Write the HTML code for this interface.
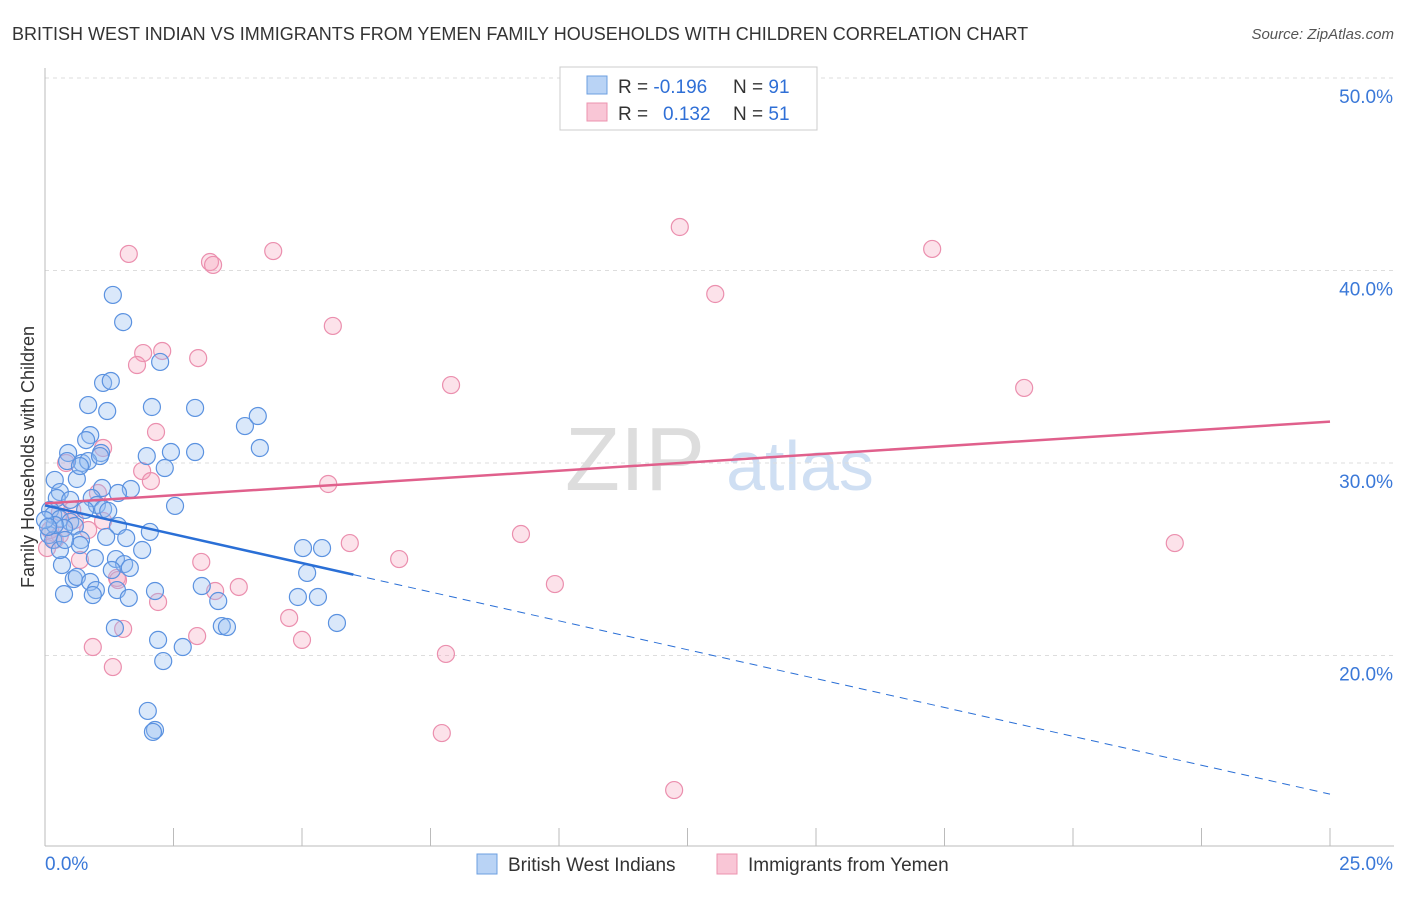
<!DOCTYPE html>
<html><head><meta charset="utf-8"><style>
body{margin:0;background:#fff;font-family:"Liberation Sans",sans-serif;}
svg text{font-family:"Liberation Sans",sans-serif;}
</style></head><body>
<svg id="chart" width="1406" height="892">
<text x="12" y="40" font-size="18" fill="#333">BRITISH WEST INDIAN VS IMMIGRANTS FROM YEMEN FAMILY HOUSEHOLDS WITH CHILDREN CORRELATION CHART</text>
<text x="1394" y="39" font-size="15" fill="#555" text-anchor="end" font-style="italic">Source: ZipAtlas.com</text>
<text x="34" y="457" font-size="18" fill="#333" text-anchor="middle" transform="rotate(-90 34 457)">Family Households with Children</text>
<g><text x="635" y="490" font-size="90" fill="#ddd" text-anchor="middle" font-family="Liberation Serif">ZIP</text><text x="800" y="490" font-size="70" fill="#cfdff3" text-anchor="middle">atlas</text></g>
<g id="grid"></g><g id="marks"></g>
<g>
<rect x="560" y="67" width="257" height="63" fill="#fff" stroke="#ccc"/>
<rect x="587" y="76" width="20" height="18" fill="#b9d3f5" stroke="#6c9fe0"/>
<rect x="587" y="103" width="20" height="18" fill="#f9c6d6" stroke="#ec93af"/>
<text x="618" y="93" font-size="19" fill="#333">R = <tspan fill="#2f6fd6">-0.196</tspan></text>
<text x="733" y="93" font-size="19" fill="#333">N = <tspan fill="#2f6fd6">91</tspan></text>
<text x="618" y="120" font-size="19" fill="#333">R = <tspan fill="#2f6fd6" x="663">0.132</tspan></text>
<text x="733" y="120" font-size="19" fill="#333">N = <tspan fill="#2f6fd6">51</tspan></text>
</g>
<g>
<rect x="477" y="854" width="20" height="20" fill="#b9d3f5" stroke="#6c9fe0"/>
<text x="508" y="871" font-size="19" fill="#333">British West Indians</text>
<rect x="717" y="854" width="20" height="20" fill="#f9c6d6" stroke="#ec93af"/>
<text x="748" y="871" font-size="19" fill="#333">Immigrants from Yemen</text>
</g>
</svg>
<script>
const yTicks=[20,30,40,50];
const xTickLabels=["0.0%","25.0%"];
const bluePx=[[113,295],[123,322],[160,362],[103,383],[111,381],[88,405],[107,411],[152,407],[195,408],[245,426],[258,416],[90,435],[86,440],[68,453],[101,453],[147,456],[171,452],[195,452],[260,448],[82,463],[88,461],[67,461],[165,468],[77,479],[55,480],[60,492],[102,488],[131,489],[118,493],[92,498],[57,498],[97,505],[103,509],[108,511],[175,506],[50,510],[53,515],[60,519],[70,522],[75,526],[64,528],[118,526],[150,532],[49,535],[53,540],[81,540],[106,537],[126,538],[142,550],[80,545],[95,558],[116,559],[124,564],[130,568],[112,570],[62,565],[74,579],[77,577],[90,582],[117,590],[155,591],[96,590],[93,595],[64,594],[129,598],[202,586],[218,601],[115,628],[222,626],[227,627],[158,640],[183,647],[163,661],[148,711],[155,730],[153,732],[303,548],[322,548],[307,573],[298,597],[318,597],[337,623],[80,466],[100,456],[55,525],[45,520],[48,527],[60,550],[70,500],[85,510],[65,540]];
const pinkPx=[[129,254],[210,262],[213,265],[273,251],[680,227],[932,249],[715,294],[333,326],[143,353],[162,351],[137,365],[198,358],[451,385],[1024,388],[156,432],[103,448],[66,463],[142,471],[151,481],[98,493],[328,484],[72,510],[103,521],[88,530],[50,530],[60,535],[47,548],[80,560],[350,543],[521,534],[399,559],[201,562],[117,578],[555,584],[1175,543],[239,587],[215,591],[158,602],[289,618],[123,629],[197,636],[302,640],[93,647],[113,667],[446,654],[442,733],[674,790],[60,512],[75,520],[55,540],[118,580]];
const blueX=bluePx.map(p=>+((p[0]-45)/1285*25).toFixed(2));
const blueY=bluePx.map(p=>+(50-(p[1]-78)/19.25).toFixed(2));
const pinkX=pinkPx.map(p=>+((p[0]-45)/1285*25).toFixed(2));
const pinkY=pinkPx.map(p=>+(50-(p[1]-78)/19.25).toFixed(2));
const blueTrend=[27.8,-0.6];
const pinkTrend=[27.9,0.17];
const X=v=>45+v/25*1285, Y=v=>78+(50-v)*19.25;
const NS="http://www.w3.org/2000/svg";
function mk(t,a,p){const e=document.createElementNS(NS,t);for(const k in a)e.setAttribute(k,a[k]);p.appendChild(e);return e;}
const g=document.getElementById('grid'),m=document.getElementById('marks');
yTicks.forEach(t=>{const l=mk('line',{x1:45,x2:1394,y1:Y(t),y2:Y(t),stroke:'#ddd','stroke-dasharray':'4,4'},g);


const tx=mk('text',{x:1393,y:Y(t)+25,'font-size':19,fill:'#3a78d8','text-anchor':'end'},g);tx.textContent=t.toFixed(1)+'%';

});
mk('line',{x1:45,x2:45,y1:68,y2:846,stroke:'#bbb'},g);
mk('line',{x1:45,x2:1394,y1:846,y2:846,stroke:'#bbb'},g);
for(let i=0;i<=10;i++){mk('line',{x1:X(i*2.5),x2:X(i*2.5),y1:828,y2:846,stroke:'#bbb'},g);}
xTickLabels.forEach((s,i)=>{const tx=mk('text',{x:i?1393:45,y:870,'font-size':19,fill:'#3a78d8','text-anchor':i?'end':'start'},g);tx.textContent=s;

});
pinkX.forEach((x,i)=>{const c=mk('circle',{cx:X(x),cy:Y(pinkY[i]),r:8.5,fill:'rgba(245,160,185,0.3)',stroke:'#eb8fae','stroke-width':1.2},m);

});
blueX.forEach((x,i)=>{const c=mk('circle',{cx:X(x),cy:Y(blueY[i]),r:8.5,fill:'rgba(150,190,240,0.35)',stroke:'#5b92e0','stroke-width':1.2},m);

});
const bl=v=>blueTrend[0]+blueTrend[1]*v;
let l=mk('line',{x1:X(0),y1:Y(bl(0)),x2:X(6),y2:Y(bl(6)),stroke:'#2a6fd6','stroke-width':2.5},m);


l=mk('line',{x1:X(6),y1:Y(bl(6)),x2:X(25),y2:Y(bl(25)),stroke:'#2a6fd6','stroke-width':1,'stroke-dasharray':'8,6'},m);


const pl=v=>pinkTrend[0]+pinkTrend[1]*v;
l=mk('line',{x1:X(0),y1:Y(pl(0)),x2:X(25),y2:Y(pl(25)),stroke:'#e0608c','stroke-width':2.5},m);


</script>
</body></html>
